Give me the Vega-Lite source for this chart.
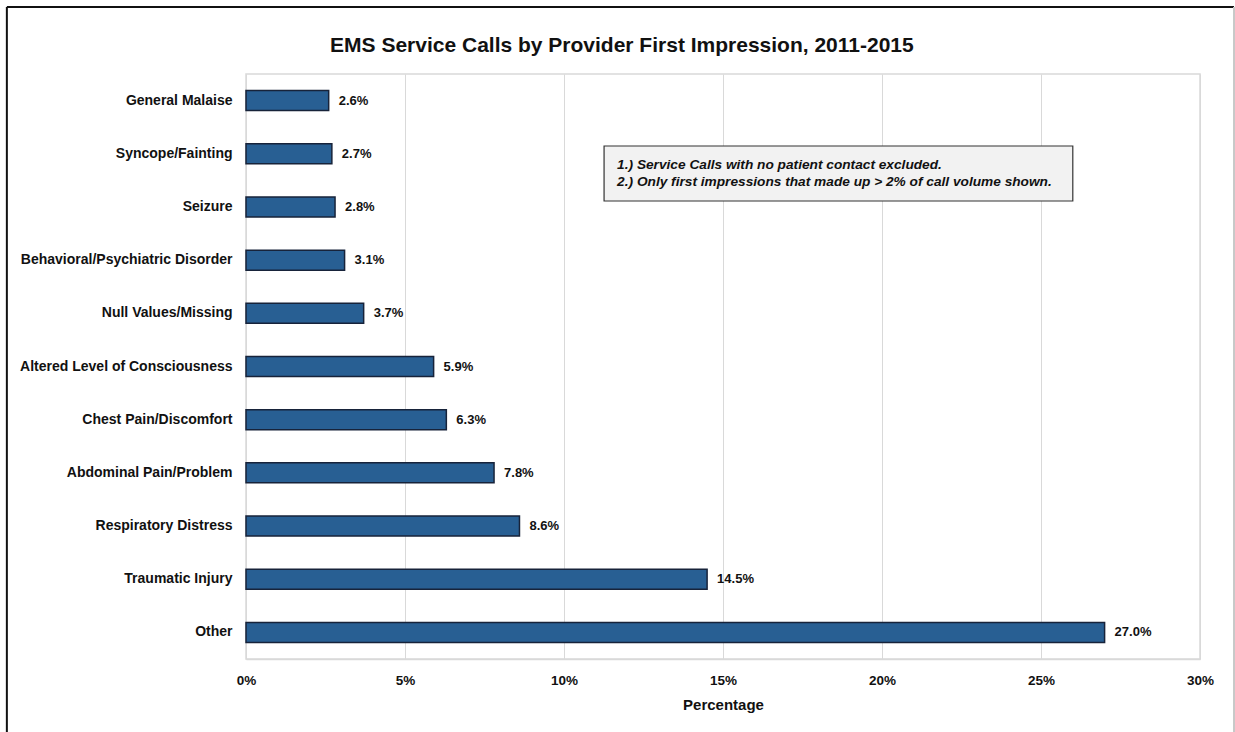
{
  "$schema": "https://vega.github.io/schema/vega-lite/v6.json",
  "width": 954,
  "height": 585,
  "autosize": {"type": "none"},
  "padding": {"left": 246, "top": 74, "right": 35, "bottom": 73},
  "background": "white",
  "config": {
    "view": {"stroke": "#d9d9d9", "strokeWidth": 1.5},
    "axis": {
      "labelFont": "Liberation Sans",
      "titleFont": "Liberation Sans",
      "labelFontWeight": "bold",
      "labelColor": "#111111",
      "titleColor": "#111111"
    }
  },
  "datasets": {
    "bars": [
      {"impression": "General Malaise", "share": 0.026},
      {"impression": "Syncope/Fainting", "share": 0.027},
      {"impression": "Seizure", "share": 0.028},
      {"impression": "Behavioral/Psychiatric Disorder", "share": 0.031},
      {"impression": "Null Values/Missing", "share": 0.037},
      {"impression": "Altered Level of Consciousness", "share": 0.059},
      {"impression": "Chest Pain/Discomfort", "share": 0.063},
      {"impression": "Abdominal Pain/Problem", "share": 0.078},
      {"impression": "Respiratory Distress", "share": 0.086},
      {"impression": "Traumatic Injury", "share": 0.145},
      {"impression": "Other", "share": 0.270}
    ],
    "heading": [
      {"x": 0.1182, "y": 11.53, "label": "EMS Service Calls by Provider First Impression, 2011-2015"}
    ],
    "notebox": [
      {"x": 0.1126, "x2": 0.2600, "y": 9.646, "y2": 8.612}
    ],
    "notes": [
      {"x": 0.1167, "y": 9.289, "note": "1.) Service Calls with no patient contact excluded."},
      {"x": 0.1167, "y": 8.969, "note": "2.) Only first impressions that made up >  2% of call volume shown."}
    ],
    "frame": [
      {"x": -0.0752, "x2": 0.3107, "y": 12.26, "y2": 12.26, "c": "top"},
      {"x": -0.0752, "x2": -0.0752, "y": 12.26, "y2": -3, "c": "left"}
    ],
    "frameright": [
      {"x": 0.3107, "x2": 0.3107, "y": 12.26, "y2": -3}
    ]
  },
  "layer": [
    {
      "layer": [
        {
          "data": {"name": "bars"},
          "mark": {"type": "bar", "fill": "#285f93", "stroke": "#17233a", "strokeWidth": 1.5},
          "encoding": {
            "y": {
              "field": "impression",
              "type": "nominal",
              "sort": null,
              "scale": {"paddingInner": 0.624, "paddingOuter": 0.312},
              "axis": {
                "title": null,
                "ticks": false,
                "domain": false,
                "labelFontSize": 14,
                "labelPadding": 14,
                "labelLimit": 300
              }
            },
            "x": {
              "field": "share",
              "type": "quantitative",
              "scale": {"domain": [0, 0.3], "nice": false},
              "axis": {
                "title": "Percentage",
                "format": ".0%",
                "values": [0, 0.05, 0.1, 0.15, 0.2, 0.25, 0.3],
                "ticks": false,
                "labelFlush": false,
                "domainColor": "#d9d9d9",
                "domainWidth": 1.5,
                "gridColor": "#d9d9d9",
                "labelFontSize": 13.5,
                "labelPadding": 14,
                "titleFontSize": 15,
                "titleFontWeight": "bold",
                "titlePadding": 11
              }
            }
          }
        },
        {
          "data": {"name": "bars"},
          "mark": {
            "type": "text",
            "align": "left",
            "dx": 10,
            "font": "Liberation Sans",
            "fontSize": 13,
            "fontWeight": "bold",
            "color": "#111111"
          },
          "encoding": {
            "y": {"field": "impression", "type": "nominal", "sort": null},
            "x": {"field": "share", "type": "quantitative"},
            "text": {"field": "share", "type": "quantitative", "format": ".1%"}
          }
        }
      ]
    },
    {
      "data": {"name": "heading"},
      "mark": {
        "type": "text",
        "align": "center",
        "baseline": "middle",
        "font": "Liberation Sans",
        "fontSize": 21,
        "fontWeight": "bold",
        "color": "#111111"
      },
      "encoding": {
        "x": {"field": "x", "type": "quantitative"},
        "y": {"field": "y", "type": "quantitative", "scale": {"domain": [0, 11], "nice": false}, "axis": null},
        "text": {"field": "label", "type": "nominal"}
      }
    },
    {
      "data": {"name": "notebox"},
      "mark": {"type": "rect", "fill": "#f2f2f2", "stroke": "#333333", "strokeWidth": 1.2},
      "encoding": {
        "x": {"field": "x", "type": "quantitative"},
        "x2": {"field": "x2"},
        "y": {"field": "y", "type": "quantitative", "scale": {"domain": [0, 11], "nice": false}, "axis": null},
        "y2": {"field": "y2"}
      }
    },
    {
      "data": {"name": "notes"},
      "mark": {
        "type": "text",
        "align": "left",
        "baseline": "middle",
        "font": "Liberation Sans",
        "fontSize": 13.7,
        "fontStyle": "italic",
        "fontWeight": "bold",
        "color": "#111111"
      },
      "encoding": {
        "x": {"field": "x", "type": "quantitative"},
        "y": {"field": "y", "type": "quantitative", "scale": {"domain": [0, 11], "nice": false}, "axis": null},
        "text": {"field": "note", "type": "nominal"}
      }
    },
    {
      "data": {"name": "frame"},
      "mark": {"type": "rule", "stroke": "#111111", "strokeWidth": 2},
      "encoding": {
        "x": {"field": "x", "type": "quantitative"},
        "x2": {"field": "x2"},
        "y": {"field": "y", "type": "quantitative", "scale": {"domain": [0, 11], "nice": false}, "axis": null},
        "y2": {"field": "y2"}
      }
    },
    {
      "data": {"name": "frameright"},
      "mark": {"type": "rule", "stroke": "#c8c8c8", "strokeWidth": 2},
      "encoding": {
        "x": {"field": "x", "type": "quantitative"},
        "x2": {"field": "x2"},
        "y": {"field": "y", "type": "quantitative", "scale": {"domain": [0, 11], "nice": false}, "axis": null},
        "y2": {"field": "y2"}
      }
    }
  ],
  "resolve": {"scale": {"y": "independent"}, "axis": {"y": "independent"}}
}
